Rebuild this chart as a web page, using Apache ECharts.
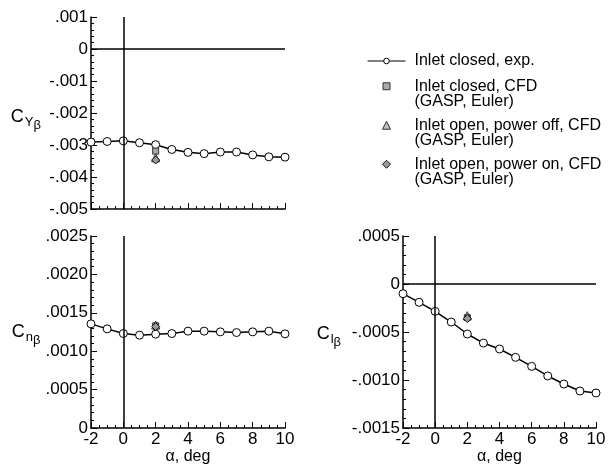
<!DOCTYPE html>
<html><head><meta charset="utf-8">
<script src="https://cdn.jsdelivr.net/npm/echarts@6/dist/echarts.min.js"></script>
<style>html,body{margin:0;padding:0;background:#fff}#c{width:611px;height:469px}</style>
</head><body><div id="c"></div>
<script>
const alpha = [-2, -1, 0, 1, 2, 3, 4, 5, 6, 7, 8, 9, 10];
const cyExp = [-0.00291, -0.00289, -0.00287, -0.00293, -0.00299, -0.00314, -0.00323, -0.00327, -0.00322, -0.00322, -0.00331, -0.00337, -0.00338];
const cnExp = [0.001356, 0.001291, 0.00123, 0.001209, 0.001222, 0.00123, 0.001261, 0.001261, 0.001252, 0.001243, 0.001252, 0.001261, 0.001226];
const clExp = [-0.000101, -0.000191, -0.000285, -0.000396, -0.000521, -0.000615, -0.000677, -0.000764, -0.000858, -0.000958, -0.001042, -0.001115, -0.001135];
const cfdAlpha = 2;
const cyCfd = {closed: -0.00319, off: -0.00340, on: -0.00347};
const cnCfd = {closed: 0.00133, off: 0.00134, on: 0.00132};
const clCfd = {closed: -0.00035, off: -0.00033, on: -0.00036};
const xTicks = {min: -2, max: 10, step: 2};
const names = ['Inlet closed, exp.', 'Inlet closed, CFD\n(GASP, Euler)', 'Inlet open, power off, CFD\n(GASP, Euler)', 'Inlet open, power on, CFD\n(GASP, Euler)'];

const FONT = '"Liberation Sans", Arial, sans-serif';
const chart = echarts.init(document.getElementById('c'), null, {renderer: 'canvas'});

function fmt(d) {
  return function (v) {
    if (Math.abs(v) < 1e-12) return '0';
    return v.toFixed(d).replace('0.', '.');
  };
}
const axisLine = {onZero: false, lineStyle: {color: '#000', width: 1.5}};
function xAx(gi, showLabel) {
  return {
    type: 'value', gridIndex: gi, min: xTicks.min, max: xTicks.max, interval: xTicks.step,
    axisLine: axisLine,
    axisTick: {inside: true, length: 6, lineStyle: {color: '#000', width: 1}},
    minorTick: {show: true, splitNumber: 4, length: 3, lineStyle: {color: '#000', width: 1}},
    splitLine: {show: false},
    axisLabel: {show: showLabel, color: '#000', fontSize: 17, fontFamily: FONT, margin: 3},
    name: showLabel ? 'α, deg' : '', nameLocation: 'middle', nameGap: 19,
    nameTextStyle: {color: '#000', fontSize: 16, fontFamily: FONT, verticalAlign: 'top'}
  };
}
function yAx(gi, min, max, step, d, sub, gap, pad) {
  return {
    type: 'value', gridIndex: gi, min: min, max: max, interval: step,
    axisLine: axisLine,
    axisTick: {inside: true, length: 6, lineStyle: {color: '#000', width: 1}},
    minorTick: {show: true, splitNumber: 5, length: 3, lineStyle: {color: '#000', width: 1}},
    splitLine: {show: false},
    axisLabel: {color: '#000', fontSize: 17, fontFamily: FONT, margin: 3, formatter: fmt(d)},
    name: '{c|C}{s|' + sub + '}{ss|β}', nameLocation: 'middle', nameRotate: 0, nameGap: gap,
    nameTextStyle: {
      color: '#000', fontFamily: FONT, padding: pad,
      rich: {
        c: {fontSize: 18, fontFamily: FONT, color: '#000'},
        s: {fontSize: 13, fontFamily: FONT, color: '#000', padding: [10, 0, 0, 1]},
        ss: {fontSize: 13, fontFamily: FONT, color: '#000', padding: [17, 0, 0, 0]}
      }
    }
  };
}
function expSeries(gi, data, lines) {
  return {
    name: names[0], type: 'line', xAxisIndex: gi, yAxisIndex: gi,
    data: alpha.map((a, i) => [a, data[i]]),
    symbol: 'circle', symbolSize: 8,
    itemStyle: {color: '#fff', borderColor: '#000', borderWidth: 1},
    lineStyle: {color: '#000', width: 1.5},
    z: 3, animation: false,
    markLine: {silent: true, symbol: 'none', label: {show: false}, animation: false,
      lineStyle: {color: '#000', width: 1.5, type: 'solid'}, data: lines}
  };
}
const cfdStyles = [
  {symbol: 'rect', size: 6, fill: '#a8a8a8', border: '#333'},
  {symbol: 'triangle', size: 8, fill: '#bdbdbd', border: '#333'},
  {symbol: 'diamond', size: 8, fill: '#9a9a9a', border: '#111'}
];
function cfdSeries(gi, obj) {
  const vals = [obj.closed, obj.off, obj.on];
  return vals.map((v, k) => ({
    name: names[k + 1], type: 'scatter', xAxisIndex: gi, yAxisIndex: gi,
    data: [[cfdAlpha, v]], symbol: cfdStyles[k].symbol, symbolSize: cfdStyles[k].size,
    itemStyle: {color: cfdStyles[k].fill, borderColor: cfdStyles[k].border, borderWidth: 1, opacity: 1},
    z: 4 + k, animation: false
  }));
}
const legTxt = {color: '#000', fontSize: 16, fontFamily: FONT, lineHeight: 15.5};
// icon centre x = 386, text start x = 414
function leg(name, top, iw, ih, twoLine) {
  const left = 386 - iw / 2;
  const padL = 414 - (left + iw + 5);
  return {
    data: [name], left: left, top: top, padding: 0, itemWidth: iw, itemHeight: ih,
    selectedMode: false,
    lineStyle: {width: 1},
    itemStyle: {borderWidth: 1},
    formatter: twoLine ? function (n) { return '\n' + n; } : undefined,
    textStyle: Object.assign({}, legTxt, {padding: [0, 0, 0, padL]})
  };
}
const option = {
  backgroundColor: '#fff',
  animation: false,
  grid: [
    {left: 91, top: 17, width: 194, height: 192},
    {left: 91, top: 236, width: 194, height: 192},
    {left: 403, top: 236, width: 193, height: 192}
  ],
  xAxis: [xAx(0, false), xAx(1, true), xAx(2, true)],
  yAxis: [
    yAx(0, -0.005, 0.001, 0.001, 3, 'Y', 50, [8, 0, 0, 0]),
    yAx(1, 0, 0.0025, 0.0005, 4, 'n', 48, [0, 0, 0, 0]),
    yAx(2, -0.0015, 0.0005, 0.0005, 4, 'l', 62, [4, 0, 0, 0])
  ],
  legend: [
    leg(names[0], 53, 38, 7, false),
    leg(names[1], 62.75, 7, 7, true),
    leg(names[2], 101.75, 8, 8, true),
    leg(names[3], 140.75, 8, 8, true)
  ],
  series: [
    expSeries(0, cyExp, [{xAxis: 0}, {yAxis: 0}]),
    ...cfdSeries(0, cyCfd),
    expSeries(1, cnExp, [{xAxis: 0}]),
    ...cfdSeries(1, cnCfd),
    expSeries(2, clExp, [{xAxis: 0}, {yAxis: 0}]),
    ...cfdSeries(2, clCfd)
  ]
};
chart.setOption(option);
</script></body></html>
